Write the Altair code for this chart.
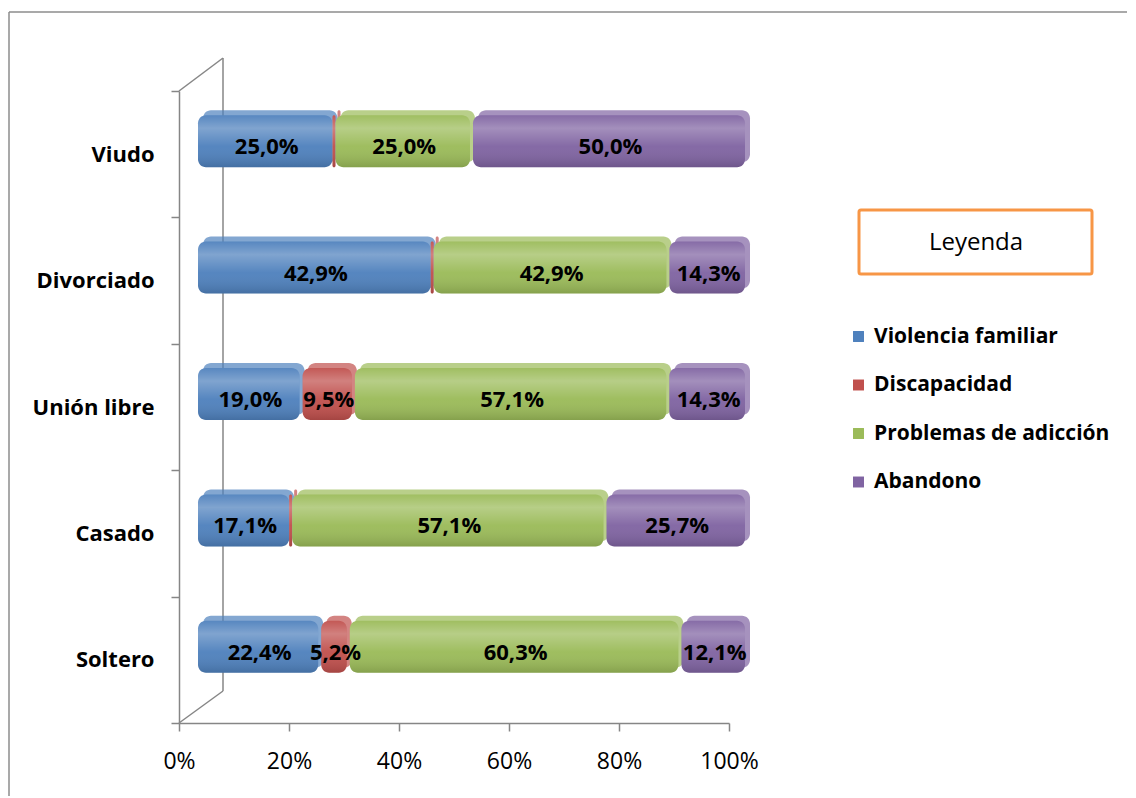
import altair as alt
import pandas as pd

categories = ["Viudo", "Divorciado", "Unión libre", "Casado", "Soltero"]
series = ["Violencia familiar", "Discapacidad", "Problemas de adicción", "Abandono"]
violencia = [25.0, 42.9, 19.0, 17.1, 22.4]
discapacidad = [0.0, 0.0, 9.5, 0.0, 5.2]
adiccion = [25.0, 42.9, 57.1, 57.1, 60.3]
abandono = [50.0, 14.3, 14.3, 25.7, 12.1]
colors = ["#4F81BD", "#C0504D", "#9BBB59", "#8064A2"]
x_ticks = [0, 20, 40, 60, 80, 100]

rows = []
for s_i, (s, vals) in enumerate(zip(series, [violencia, discapacidad, adiccion, abandono])):
    for c, v in zip(categories, vals):
        rows.append({"cat": c, "serie": s, "orden": s_i, "valor": v})
df = pd.DataFrame(rows)

W, H = 550, 632
DX, DY = 19, -13
BAR = 52
FONT = "Open Sans"
AXC = "#868686"

x_axis = alt.Axis(values=x_ticks, labelExpr="datum.value + '%'", title=None,
                  grid=False, domainColor=AXC, domainWidth=1.5, tickColor=AXC,
                  tickWidth=1.5, tickSize=8, labelFont=FONT, labelFontSize=23,
                  labelColor="black", labelPadding=19, labelFontWeight="normal",
                  labelFlush=False, labelOverlap=False)
x_scale = alt.Scale(domain=[0, 100], nice=False, zero=True)
X = alt.X("p0:Q", scale=x_scale, axis=x_axis)
Y = alt.Y("cat:N", sort=categories, scale=alt.Scale(paddingInner=0, paddingOuter=0),
          axis=alt.Axis(title=None, tickBand="extent", domainColor=AXC, domainWidth=1.5,
                        tickColor=AXC, tickWidth=1.5, tickSize=8, labelFont=FONT,
                        labelFontSize=22, labelFontWeight="bold", labelColor="black",
                        labelPadding=17))
C = alt.Color("serie:N", scale=alt.Scale(domain=series, range=colors),
              legend=alt.Legend(title=None, orient="none", legendX=669, legendY=235,
                                labelFont=FONT, labelFontWeight="bold", labelFontSize=21,
                                labelColor="black", symbolType="square", symbolSize=120,
                                rowPadding=26.5, labelOffset=5, symbolStrokeWidth=0,
                                symbolOpacity=1, labelLimit=400))

base = alt.Chart(df).transform_stack(
    stack="valor", groupby=["cat"], as_=["x0", "x1"], offset="normalize",
    sort=[alt.SortField("orden", order="ascending")]
).transform_calculate(
    p0="datum.x0*100", p1="datum.x1*100", pm="(datum.x0+datum.x1)*50",
    etiqueta="replace(format(datum.valor, '.1f'), '.', ',') + '%'"
)

back = base.mark_bar(xOffset=DX + 5, x2Offset=DX + 2, yOffset=DY - 5, y2Offset=DY - 5,
                     size=BAR, cornerRadius=8, opacity=0.7).encode(x=X, x2="p1:Q", y=Y, color=C)
front = base.mark_bar(xOffset=DX, x2Offset=DX - 3, yOffset=DY, y2Offset=DY,
                      size=BAR, cornerRadius=8).encode(x=X, x2="p1:Q", y=Y, color=C)
shine = base.mark_bar(
    xOffset=DX, x2Offset=DX - 3, yOffset=DY, y2Offset=DY, size=BAR, cornerRadius=8,
    color=alt.Gradient(gradient="linear", x1=0, x2=0, y1=0, y2=1, stops=[
        alt.GradientStop(color="rgba(255,255,255,0.05)", offset=0),
        alt.GradientStop(color="rgba(255,255,255,0.28)", offset=0.25),
        alt.GradientStop(color="rgba(255,255,255,0.04)", offset=0.6),
        alt.GradientStop(color="rgba(0,0,0,0.14)", offset=1),
    ])).encode(x=X, x2="p1:Q", y=Y)
labels = base.transform_filter("datum.valor > 0").mark_text(
    xOffset=DX, yOffset=DY + 6, font=FONT, fontWeight="bold", fontSize=22, color="black"
).encode(x=alt.X("pm:Q", scale=x_scale, axis=x_axis), y=Y, text="etiqueta:N")

one = alt.Data(values=[{"k": 0}])
frame_style = dict(color=AXC, strokeWidth=1.5)
wall = alt.Chart(one).mark_rule(**frame_style).encode(
    x=alt.value(44), y=alt.value(-33), y2=alt.value(H - 32))
diag_top = alt.Chart(one).mark_rule(**frame_style).encode(
    x=alt.value(0), y=alt.value(0), x2=alt.value(44), y2=alt.value(-33))
diag_bot = alt.Chart(one).mark_rule(**frame_style).encode(
    x=alt.value(0), y=alt.value(H), x2=alt.value(44), y2=alt.value(H - 32))
border_top = alt.Chart(one).mark_rule(color="#8c8c8c", strokeWidth=1.5).encode(
    x=alt.value(-170), x2=alt.value(948), y=alt.value(-79))
border_left = alt.Chart(one).mark_rule(color="#8c8c8c", strokeWidth=1.5).encode(
    x=alt.value(-170), y=alt.value(-79), y2=alt.value(705))
box = alt.Chart(one).mark_rect(fill="white", stroke="#F79646", strokeWidth=3,
                               cornerRadius=2).encode(
    x=alt.value(680), x2=alt.value(913), y=alt.value(119), y2=alt.value(183))
box_text = alt.Chart(one).mark_text(font=FONT, fontSize=24, color="black").encode(
    x=alt.value(797), y=alt.value(152), text=alt.value("Leyenda"))

chart = alt.layer(
    border_top, border_left, wall, diag_top, diag_bot, back, front, shine, labels, box, box_text
).properties(
    width=W, height=H, background="white",
    padding={"left": 0, "top": 3, "right": 0, "bottom": 0}
).configure_view(strokeWidth=0, stroke=None)

chart.save("out.html", embed_options={"renderer": "svg", "actions": False})
